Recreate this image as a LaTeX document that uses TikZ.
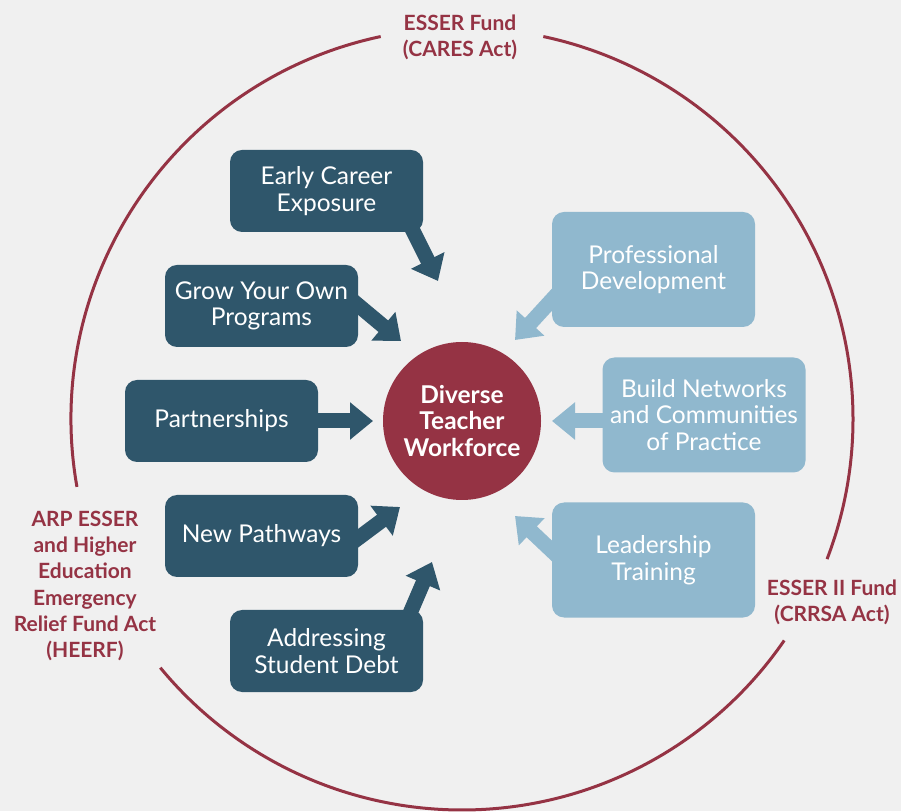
\documentclass[tikz,border=0pt]{standalone}
\usepackage{fontspec}
\setmainfont{Lato}
\usetikzlibrary{arrows.meta}
\definecolor{darkbox}{HTML}{2F566B}
\definecolor{lightbox}{HTML}{90B8CE}
\definecolor{wine}{HTML}{953344}
\definecolor{bgc}{HTML}{F0F0F0}
\tikzset{
  darkstyle/.style={rounded corners=12pt, fill=darkbox, text=white, minimum width=193pt, minimum height=82pt, align=center, inner sep=0pt, font=\fontsize{24.5}{26.5}\selectfont},
  lightstyle/.style={rounded corners=12pt, fill=lightbox, text=white, minimum width=203pt, minimum height=115pt, align=center, inner sep=0pt, font=\fontsize{24.5}{26.5}\selectfont},
  darrow/.style={draw=darkbox, line width=15pt, -{Triangle[width=36pt,length=23pt]}},
  larrow/.style={draw=lightbox, line width=15pt, -{Triangle[width=36pt,length=23pt]}},
  fundlabel/.style={text=wine, align=center, font=\bfseries\fontsize{21}{26.2}\selectfont},
  ring/.style={draw=wine, line width=3pt}
}
\begin{document}
\begin{tikzpicture}[x=1pt,y=1pt]
\fill[bgc] (0,0) rectangle (901,811);
\useasboundingbox (0,0) rectangle (901,811);
% outer ring
\coordinate (rc) at (462,392);
\draw[ring] (rc) ++(102:391) arc (102:190:391);
\draw[ring] (rc) ++(219.5:391) arc (219.5:325.5:391);
\draw[ring] (rc) ++(-21:391) arc (-21:78:391);
% fund labels
\node[fundlabel] (cares) at (460,774) {ESSER Fund\\(CARES Act)};
\node[fundlabel] (arp) at (85,225) {ARP ESSER\\and Higher\\Education\\Emergency\\Relief Fund Act\\(HEERF)};
\node[fundlabel] (crrsa) at (832,209) {ESSER II Fund\\(CRRSA Act)};
% arrow end points (drawn first, boxes cover the shaft starts)
\coordinate (a1s) at (405,596); \coordinate (a1e) at (438,530);
\coordinate (a2s) at (340,521); \coordinate (a2e) at (401,470);
\coordinate (a3s) at (300,390); \coordinate (a3e) at (373,390);
\coordinate (a4s) at (345,263); \coordinate (a4e) at (400,304);
\coordinate (a5s) at (405,186); \coordinate (a5e) at (432,249);
\coordinate (a6s) at (570,531); \coordinate (a6e) at (515,471);
\coordinate (a7s) at (620,390); \coordinate (a7e) at (552,390);
\coordinate (a8s) at (570,243); \coordinate (a8e) at (515,295);
\draw[darrow] (a1s) -- (a1e);
\draw[darrow] (a2s) -- (a2e);
\draw[darrow] (a3s) -- (a3e);
\draw[darrow] (a4s) -- (a4e);
\draw[darrow] (a5s) -- (a5e);
\draw[larrow] (a6s) -- (a6e);
\draw[larrow] (a7s) -- (a7e);
\draw[larrow] (a8s) -- (a8e);
% center
\node[circle, fill=wine, minimum size=158pt, inner sep=0pt, text=white, align=center, font=\bfseries\fontsize{24.5}{26.5}\selectfont] (dtw) at (462,390) {Diverse\\Teacher\\Workforce};
% dark boxes
\node[darkstyle] (early) at (326.5,620) {Early Career\\Exposure};
\node[darkstyle] (grow) at (261.5,505) {Grow Your Own\\Programs};
\node[darkstyle] (part) at (221.5,390) {Partnerships};
\node[darkstyle] (newp) at (261.5,275) {New Pathways};
\node[darkstyle] (debt) at (326.5,160) {Addressing\\Student Debt};
% light boxes
\node[lightstyle] (prof) at (653.5,541.5) {Professional\\Development};
\node[lightstyle] (build) at (704,396) {Build Networks\\and Communities\\of Practice};
\node[lightstyle] (lead) at (653.5,251) {Leadership\\Training};
\end{tikzpicture}
\end{document}
